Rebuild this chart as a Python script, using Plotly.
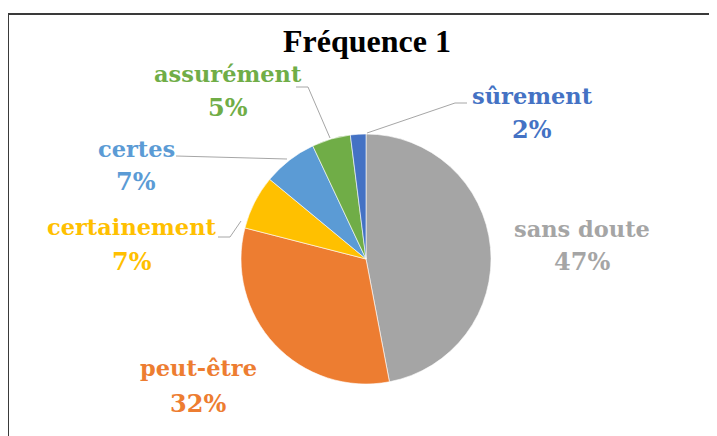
import plotly.graph_objects as go

# Data
categories = ["sans doute", "peut-être", "certainement", "certes", "assurément", "sûrement"]
values = [47, 32, 7, 7, 5, 2]
colors = ["#A5A5A5", "#ED7D31", "#FFC000", "#5B9BD5", "#70AD47", "#4472C4"]
title_text = "Fréquence 1"

W, H = 717, 436
OFF = 8  # page body margin of the browser

def px(x):
    return (x - OFF) / W

def py(y):
    return 1 - (y - OFF) / H

fig = go.Figure()

cx, cy, r = 366, 259, 125
fig.add_trace(go.Pie(
    labels=categories,
    values=values,
    sort=False,
    direction="clockwise",
    rotation=0,
    marker=dict(colors=colors, line=dict(color="white", width=0.6)),
    textinfo="none",
    hoverinfo="label+percent",
    showlegend=False,
    domain=dict(x=[px(cx - r), px(cx + r)], y=[py(cy + r), py(cy - r)]),
))

# label positions (pixel centres): label line, percent line
label_pos = {
    "sans doute": (582, 229, 262),
    "peut-être": (198, 368, 403),
    "certainement": (132, 227, 261),
    "certes": (136, 149, 182),
    "assurément": (228, 74, 108),
    "sûrement": (532, 96, 129),
}

total = sum(values)
font_lab = "DejaVu Serif"
for cat, v, col in zip(categories, values, colors):
    x, y1, y2 = label_pos[cat]
    fig.add_annotation(x=px(x), y=py(y1), xref="paper", yref="paper",
                       text=f"<b>{cat}</b>", showarrow=False,
                       xanchor="center", yanchor="middle",
                       font=dict(family=font_lab, size=22.5, color=col))
    fig.add_annotation(x=px(x), y=py(y2), xref="paper", yref="paper",
                       text=f"<b>{round(v / total * 100)}%</b>", showarrow=False,
                       xanchor="center", yanchor="middle",
                       font=dict(family=font_lab, size=24, color=col))

# title
fig.add_annotation(x=px(367), y=py(41), xref="paper", yref="paper",
                   text=f"<b>{title_text}</b>", showarrow=False,
                   xanchor="center", yanchor="middle",
                   font=dict(family="Liberation Serif", size=32, color="#000000"))

# leader lines
leaders = [
    [(367, 133), (455, 103), (467, 103)],
    [(330, 138), (308, 87), (296, 87)],
    [(287, 159), (176, 156)],
    [(241, 221), (230, 237), (218, 237)],
]
for pts in leaders:
    path = "M " + " L ".join(f"{px(x)},{py(y)}" for x, y in pts)
    fig.add_shape(type="path", path=path, xref="paper", yref="paper",
                  line=dict(color="#A6A6A6", width=1))

# frame (left and top edges)
fig.add_shape(type="line", xref="paper", yref="paper",
              x0=px(8), y0=py(14), x1=px(8), y1=py(450),
              line=dict(color="#3A3A3A", width=2))
fig.add_shape(type="line", xref="paper", yref="paper",
              x0=px(8), y0=py(14), x1=px(730), y1=py(14),
              line=dict(color="#3A3A3A", width=2))

fig.update_layout(
    width=W, height=H,
    margin=dict(l=0, r=0, t=0, b=0),
    paper_bgcolor="white", plot_bgcolor="white",
)

fig.write_html("out.html")
